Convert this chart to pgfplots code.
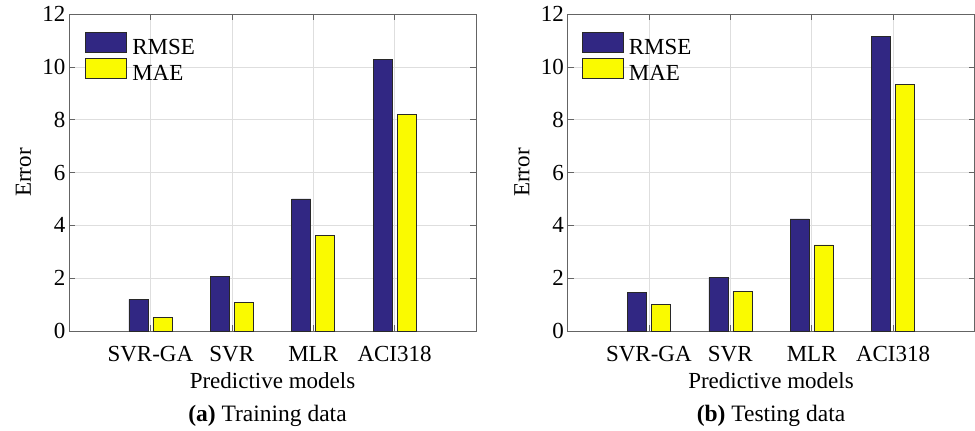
\documentclass[border=0pt]{standalone}
\usepackage{fontspec}
\setmainfont{Liberation Serif}
\usepackage{pgfplots}
\pgfplotsset{compat=1.18}
\definecolor{rmse}{RGB}{49,39,131}
\definecolor{mae}{RGB}{250,250,0}
\definecolor{gridc}{RGB}{222,222,222}
\definecolor{axc}{RGB}{100,100,100}
\definecolor{edgec}{RGB}{40,40,40}

\pgfplotsset{
 myaxis/.style={
  scale only axis, width=407pt, height=317pt, anchor=south west,
  xmin=0, xmax=5, ymin=0, ymax=12, clip=false,
  xtick={1,2,3,4}, xticklabels={SVR-GA,SVR,MLR,ACI318},
  ytick={0,2,...,12},
  ybar=5pt, bar width=19pt,
  grid=major, major grid style={draw=gridc, line width=0.6pt},
  axis line style={draw=axc, line width=0.8pt},
  major tick style={draw=axc, line width=0.6pt}, major tick length=6pt,
  tick align=inside,
  font=\fontsize{23}{25}\selectfont,
  /pgf/number format/assume math mode=true,
  xticklabel style={anchor=base, yshift=-30.5pt},
  xlabel={Predictive models},
  xlabel style={at={(axis description cs:0.5,0)}, anchor=base, yshift=-57pt},
  ylabel={Error},
  ylabel style={at={(axis description cs:-0.112,0.5)}, anchor=center},
  legend style={draw=none, fill=none, at={(axis description cs:0,1)}, anchor=north west,
    inner sep=0pt, row sep=1.5pt, nodes={inner sep=1pt}, cells={anchor=west},
    font=\fontsize{23}{25}\selectfont,
    /tikz/every odd column/.style={column sep=4.5pt}},
 },
 rmsebar/.style={fill=rmse, draw=edgec, line width=0.6pt,
   legend image code/.code={\draw[fill=rmse,draw=edgec,line width=0.6pt] (0pt,-5pt) rectangle (41pt,15pt);}},
 maebar/.style={fill=mae, draw=edgec, line width=0.6pt,
   legend image code/.code={\draw[fill=mae,draw=edgec,line width=0.6pt] (0pt,-5pt) rectangle (41pt,15pt);}},
}

\begin{document}
\begin{tikzpicture}
\useasboundingbox (0pt,0pt) rectangle (975pt,431pt);
\begin{axis}[myaxis, at={(69pt,100pt)}, legend style={xshift=16pt, yshift=-18pt}]
\addplot[rmsebar] coordinates {(1,1.20) (2,2.08) (3,5.00) (4,10.28)};
\addplot[maebar] coordinates {(1,0.52) (2,1.07) (3,3.62) (4,8.21)};
\legend{RMSE,MAE}
\node[anchor=base, yshift=-90pt, xshift=-5pt, font=\fontsize{23.5}{25}\selectfont] at (axis description cs:0.5,0) {\textbf{(a)} Training data};
\end{axis}
\begin{axis}[myaxis, at={(567.5pt,100pt)}, legend style={xshift=14pt, yshift=-18pt}]
\addplot[rmsebar] coordinates {(1,1.46) (2,2.03) (3,4.24) (4,11.14)};
\addplot[maebar] coordinates {(1,1.02) (2,1.49) (3,3.26) (4,9.32)};
\legend{RMSE,MAE}
\node[anchor=base, yshift=-90pt, font=\fontsize{23.5}{25}\selectfont] at (axis description cs:0.5,0) {\textbf{(b)} Testing data};
\end{axis}
\end{tikzpicture}
\end{document}
